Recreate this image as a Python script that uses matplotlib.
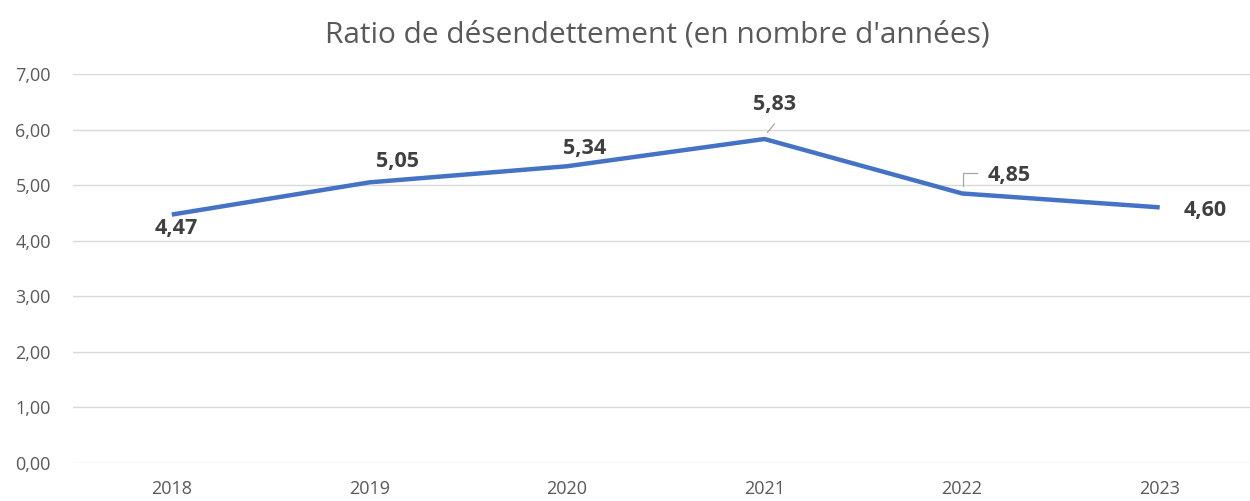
import matplotlib
matplotlib.use("Agg")
import matplotlib.pyplot as plt

# Data
years = ["2018", "2019", "2020", "2021", "2022", "2023"]
ratio = [4.47, 5.05, 5.34, 5.83, 4.85, 4.60]
# label offsets in points (dx, dy) for each data label
label_offsets = [(3, -10), (20, 15), (13, 13), (7, 25), (34, 13), (33, -2)]

plt.rcParams["font.family"] = ["Open Sans", "DejaVu Sans"]

fig = plt.figure(figsize=(12.5, 5.01), dpi=100)
ax = fig.add_axes([73 / 1250, 38 / 501, 1177 / 1250, 389 / 501])

x = list(range(len(years)))
ax.plot(x, ratio, color="#4472C4", linewidth=3.2, solid_capstyle="butt", zorder=3)

for i, v in enumerate(ratio):
    dx, dy = label_offsets[i]
    ax.annotate(f"{v:.2f}".replace(".", ","), (x[i], v), xytext=(dx, dy),
                textcoords="offset points", ha="center", va="center",
                fontsize=15.5, fontweight="bold", color="#404040", zorder=4)

# small leader lines like in the original
ax.plot([3.015, 3.05], [5.95, 6.1], color="#A6A6A6", lw=0.9, zorder=2)
ax.plot([4.005, 4.005, 4.075], [4.98, 5.22, 5.22], color="#A6A6A6", lw=0.9, zorder=2)

ax.set_xlim(-0.5, 5.457)
ax.set_ylim(0, 7)
ax.set_yticks([0, 1, 2, 3, 4, 5, 6, 7])
ax.set_yticklabels([f"{t:.2f}".replace(".", ",") for t in range(8)])
ax.set_xticks(x)
ax.set_xticklabels(years)
ax.tick_params(axis="both", length=0, labelsize=13, colors="#595959")
ax.tick_params(axis="y", pad=16)
ax.tick_params(axis="x", pad=12)
ax.grid(axis="y", color="#D9D9D9", linewidth=1)
ax.set_axisbelow(True)
for s in ax.spines.values():
    s.set_visible(False)

fig.text(0.526, 0.93, "Ratio de désendettement (en nombre d'années)",
         ha="center", va="center", fontsize=21.5, color="#595959")

fig.savefig("out.png", dpi=100)
